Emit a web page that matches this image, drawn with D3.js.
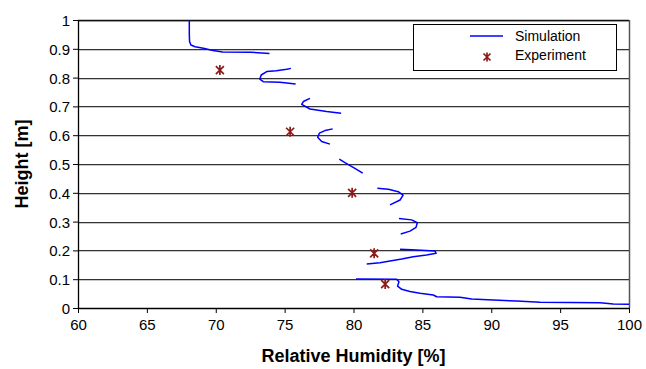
<!DOCTYPE html>
<html>
<head>
<meta charset="utf-8">
<script src="https://cdn.jsdelivr.net/npm/d3@7"></script>
<style>
  body { margin: 0; background: #fff; }
  svg { display: block; font-family: "Liberation Sans", Arial, sans-serif; }
</style>
</head>
<body>
<div id="chart"></div>
<script>
// simulation profile, null = break between the pieces of the curve
const simRH = [
  68.08, 68.08, 68.1, 68.2, 68.5, 69.1, 69.8, 70.5, 72.5, 73.9, null,
  75.46, 75.15, 74.4, 73.7, 73.3, 73.2, 73.45, 74.66, 75.8, null,
  76.84, 76.36, 76.24, 76.84, 78.05, 79.1, null,
  78.49, 77.93, 77.52, 77.4, 77.69, 78.29, null,
  78.97, 79.38, 80.1, 80.67, null,
  81.73, 82.53, 83.25, 83.6, 83.38, 82.65, null,
  83.3, 84.22, 84.63, 84.54, 84.1, 83.43, null,
  83.38, 84.59, 85.92, 86.0, 85.3, 84.34, 83.5, 82.65, 81.92, 80.96, null,
  80.18, 83.13, 83.3, 83.2, 83.5, 84.1, 84.83, 85.79, 86.04, 87.73, 88.58, 90.15, 91.85, 93.54, 97.9, 98.86, 100
];
const simHeight = [
  1.0, 0.95, 0.925, 0.913, 0.907, 0.902, 0.894, 0.889, 0.888, 0.884, null,
  0.832, 0.829, 0.824, 0.821, 0.809, 0.795, 0.786, 0.784, 0.778, null,
  0.728, 0.717, 0.707, 0.691, 0.682, 0.676, null,
  0.622, 0.616, 0.607, 0.593, 0.578, 0.569, null,
  0.517, 0.505, 0.485, 0.468, null,
  0.416, 0.412, 0.404, 0.392, 0.375, 0.358, null,
  0.311, 0.306, 0.296, 0.28, 0.267, 0.257, null,
  0.204, 0.201, 0.198, 0.19, 0.184, 0.178, 0.17, 0.163, 0.157, 0.153, null,
  0.101, 0.0995, 0.091, 0.076, 0.065, 0.057, 0.051, 0.045, 0.039, 0.037, 0.031, 0.028, 0.024, 0.020, 0.018, 0.014, 0.013
];

const expRH = [70.3, 75.4, 79.9, 81.5, 82.3];
const expHeight = [0.826, 0.612, 0.400, 0.190, 0.083];

const xTicks = [60, 65, 70, 75, 80, 85, 90, 95, 100];
const yTicks = [0, 0.1, 0.2, 0.3, 0.4, 0.5, 0.6, 0.7, 0.8, 0.9, 1];

const seriesNames = ['Simulation', 'Experiment'];

const W = 646, H = 369;
const margin = { top: 20, right: 17, bottom: 61, left: 78 };
const width = W - margin.left - margin.right;
const height = H - margin.top - margin.bottom;

const svg = d3.select('#chart').append('svg')
  .attr('width', W)
  .attr('height', H);

const g = svg.append('g')
  .attr('transform', `translate(${margin.left},${margin.top})`);

const x = d3.scaleLinear().domain([60, 100]).range([0, width]);
const y = d3.scaleLinear().domain([0, 1]).range([height, 0]);

// horizontal grid lines (dark line with a soft grey shadow under it)
g.append('g').selectAll('line.shadow')
  .data(yTicks.filter(d => d > 0))
  .enter().append('line')
  .attr('x1', 0).attr('x2', width)
  .attr('y1', d => Math.round(y(d)) + 1.5)
  .attr('y2', d => Math.round(y(d)) + 1.5)
  .attr('stroke', '#c8c8c8')
  .attr('stroke-width', 1);
g.append('g').selectAll('line.grid')
  .data(yTicks.filter(d => d > 0))
  .enter().append('line')
  .attr('x1', 0).attr('x2', width)
  .attr('y1', d => Math.round(y(d)) + 0.5)
  .attr('y2', d => Math.round(y(d)) + 0.5)
  .attr('stroke', d => d === 1 ? '#111' : '#333')
  .attr('stroke-width', d => d === 1 ? 1.6 : 1);

// right frame
g.append('line')
  .attr('x1', Math.round(x(100)) + 0.5).attr('x2', Math.round(x(100)) + 0.5)
  .attr('y1', y(1)).attr('y2', y(0))
  .attr('stroke', '#555')
  .attr('stroke-width', 1.5);

// axes
const xAxis = g.append('g')
  .attr('transform', `translate(0,${height})`)
  .call(d3.axisBottom(x).tickValues(xTicks).tickSize(5).tickSizeOuter(0));
const yAxis = g.append('g')
  .call(d3.axisLeft(y).tickValues(yTicks).tickSize(5).tickSizeOuter(0)
    .tickFormat(d => d3.format('')(d)));

[xAxis, yAxis].forEach(a => {
  a.select('.domain').attr('stroke', '#000').attr('stroke-width', 1.3);
  a.selectAll('.tick line').attr('stroke', '#000');
  a.selectAll('.tick text')
    .style('font-size', '15px')
    .style('font-family', '"Liberation Sans", Arial, sans-serif')
    .attr('fill', '#000');
});
xAxis.selectAll('.tick text').attr('y', 8).attr('dy', '0.95em');
yAxis.selectAll('.tick text').attr('x', -8).attr('dy', '0.36em');

// simulation line
const simData = simRH.map((v, i) => ({ rh: v, h: simHeight[i] }));
const line = d3.line()
  .defined(d => d.rh !== null)
  .x(d => x(d.rh))
  .y(d => y(d.h));

g.append('path')
  .datum(simData)
  .attr('d', line)
  .attr('fill', 'none')
  .attr('stroke', '#0000ff')
  .attr('stroke-width', 1.5)
  .attr('stroke-linejoin', 'round');

// experiment markers (excel-style star)
function star(sel, s) {
  sel.append('path')
    .attr('d', `M${-s},${-s}L${s},${s}M${-s},${s}L${s},${-s}M0,${-s - 1}L0,${s + 1}`)
    .attr('stroke', '#8b1a1a')
    .attr('stroke-width', 1.7)
    .attr('fill', 'none');
}
const expData = expRH.map((v, i) => ({ rh: v, h: expHeight[i] }));
g.selectAll('.exp')
  .data(expData)
  .enter().append('g')
  .attr('class', 'exp')
  .attr('transform', d => `translate(${x(d.rh)},${y(d.h)})`)
  .each(function () { star(d3.select(this), 4); });

// legend
const legend = svg.append('g').attr('transform', 'translate(413,24)');
legend.append('rect')
  .attr('x', 0.5).attr('y', 0.5)
  .attr('width', 203).attr('height', 46)
  .attr('fill', '#fff')
  .attr('stroke', '#000')
  .attr('stroke-width', 1);
legend.append('line')
  .attr('x1', 57).attr('x2', 90)
  .attr('y1', 12).attr('y2', 12)
  .attr('stroke', '#0000ff')
  .attr('stroke-width', 1.5);
const lstar = legend.append('g').attr('transform', 'translate(74,33)');
star(lstar, 3.5);
legend.selectAll('text.lg')
  .data(seriesNames)
  .enter().append('text')
  .attr('x', 102)
  .attr('y', (d, i) => 17 + i * 19)
  .style('font-size', '14px')
  .text(d => d);

// axis titles
svg.append('text')
  .attr('x', margin.left + width / 2)
  .attr('y', 362)
  .attr('text-anchor', 'middle')
  .style('font-size', '18px')
  .style('font-weight', 'bold')
  .text('Relative Humidity [%]');

svg.append('text')
  .attr('transform', `translate(28,${margin.top + height / 2}) rotate(-90)`)
  .attr('text-anchor', 'middle')
  .style('font-size', '18px')
  .style('font-weight', 'bold')
  .text('Height [m]');
</script>
</body>
</html>
